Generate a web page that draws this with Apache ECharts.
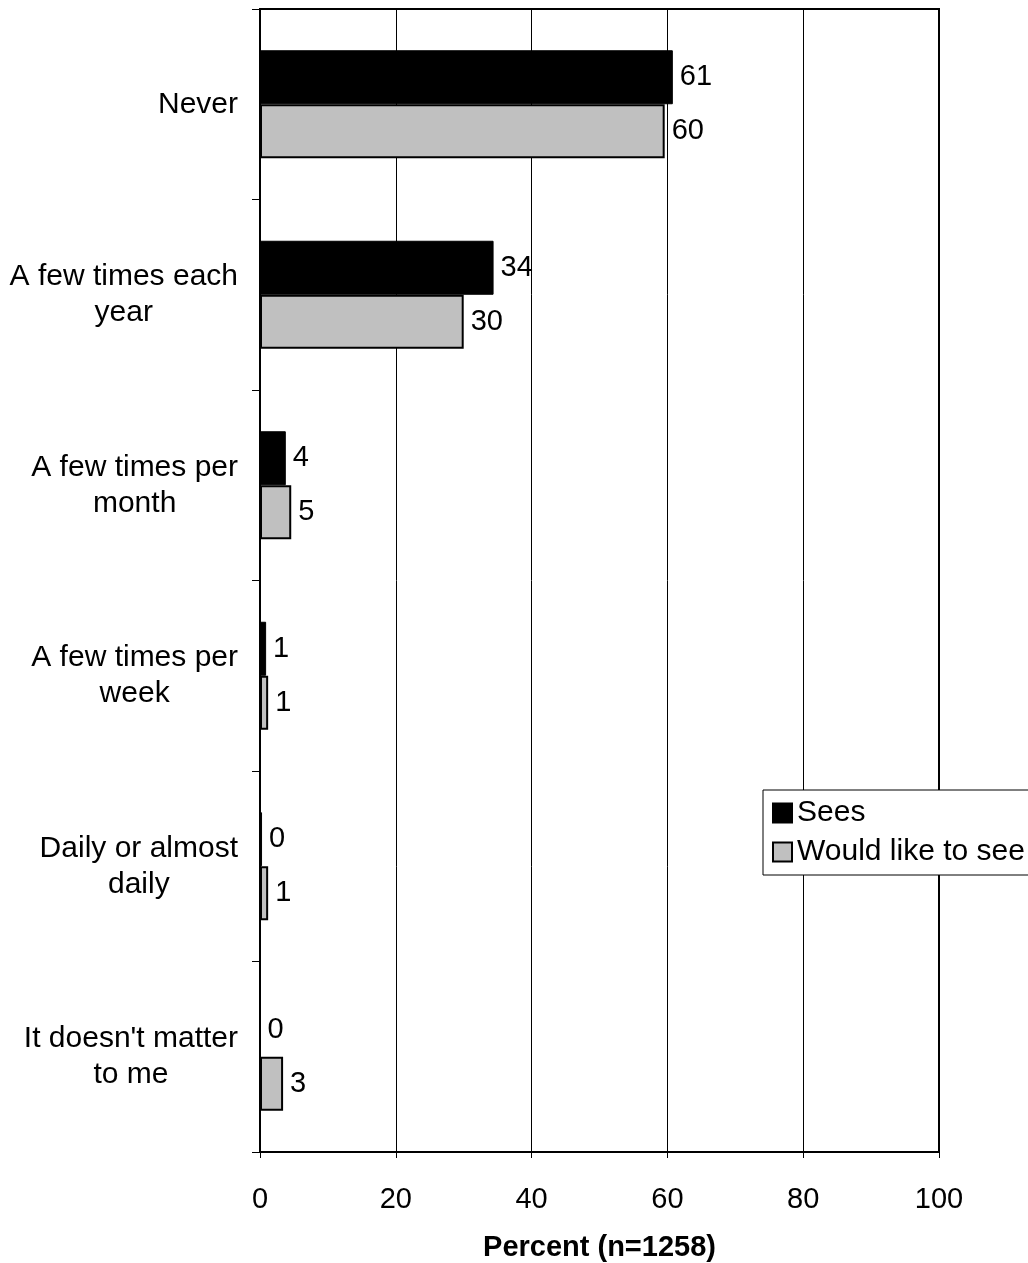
<!DOCTYPE html>
<html>
<head>
<meta charset="utf-8">
<script src="https://cdn.jsdelivr.net/npm/echarts@6/dist/echarts.min.js"></script>
<style>
html,body{margin:0;padding:0;background:#fff;}
#chart{width:1028px;height:1263px;}
</style>
</head>
<body>
<div id="chart"></div>
<script>
const categories = ["Never", "A few times each\nyear", "A few times per\nmonth", "A few times per\nweek", "Daily or almost\ndaily", "It doesn't matter\nto me"];
const seesValues = [60.8, 34.4, 3.8, 0.9, 0.3, 0];
const wouldLikeValues = [59.6, 30.0, 4.6, 1.2, 1.2, 3.4];
const xTicks = [0, 20, 40, 60, 80, 100];
const seriesNames = ["Sees", "Would like to see"];
const axisTitle = "Percent (n=1258)";

const FONT = "'Liberation Sans', Arial, sans-serif";
const FS = 30;

const chart = echarts.init(document.getElementById('chart'));
const labelCfg = {
  show: true,
  position: 'right',
  distance: 7,
  fontFamily: FONT,
  fontSize: 29,
  color: '#000',
  formatter: p => String(Math.round(p.value))
};
chart.setOption({
  backgroundColor: '#fff',
  animation: false,
  textStyle: { fontFamily: FONT },
  grid: {
    left: 260, right: 89, top: 9, bottom: 111,
    outerBoundsMode: 'none',
    containLabel: false,
    show: true, borderColor: '#000', borderWidth: 2, backgroundColor: 'transparent'
  },
  legend: {
    orient: 'vertical',
    left: 763, top: 790,
    data: seriesNames,
    icon: 'rect',
    itemWidth: 19, itemHeight: 19,
    itemGap: 9,
    padding: [8, 12, 8, 9],
    borderColor: '#000', borderWidth: 1,
    backgroundColor: '#fff',
    textStyle: { fontFamily: FONT, fontSize: FS, color: '#000' }
  },
  xAxis: {
    type: 'value',
    min: xTicks[0], max: xTicks[xTicks.length - 1], interval: 20,
    axisLine: { show: true, lineStyle: { color: '#000', width: 2 } },
    axisTick: { show: true, length: 6, lineStyle: { color: '#000', width: 1 } },
    axisLabel: { fontFamily: FONT, fontSize: 29, color: '#000', margin: 33 },
    splitLine: { show: true, lineStyle: { color: '#000', width: 1 } },
    name: axisTitle,
    nameLocation: 'middle',
    nameGap: 81,
    nameTextStyle: { fontFamily: FONT, fontSize: 29, fontWeight: 'bold', color: '#000' }
  },
  yAxis: {
    type: 'category',
    data: categories,
    inverse: true,
    axisLine: { show: true, lineStyle: { color: '#000', width: 2 } },
    axisTick: { show: true, length: 8, lineStyle: { color: '#000', width: 1 } },
    axisLabel: {
      margin: 22,
      fontFamily: FONT, fontSize: FS, color: '#000',
      lineHeight: 36,
      formatter: v => v.split('\n').map(s => '{c|' + s + '}').join('\n'),
      rich: { c: { align: 'center', fontFamily: FONT, fontSize: FS, color: '#000', lineHeight: 36 } }
    },
    splitLine: { show: false }
  },
  series: [
    {
      name: seriesNames[0], type: 'bar', data: seesValues,
      barWidth: 54, barGap: '0%',
      itemStyle: { color: '#000', borderColor: '#000', borderWidth: 1 },
      label: labelCfg
    },
    {
      name: seriesNames[1], type: 'bar', data: wouldLikeValues,
      barWidth: 54, barGap: '0%',
      itemStyle: { color: '#c0c0c0', borderColor: '#000', borderWidth: 2 },
      label: labelCfg
    }
  ]
});
</script>
</body>
</html>
